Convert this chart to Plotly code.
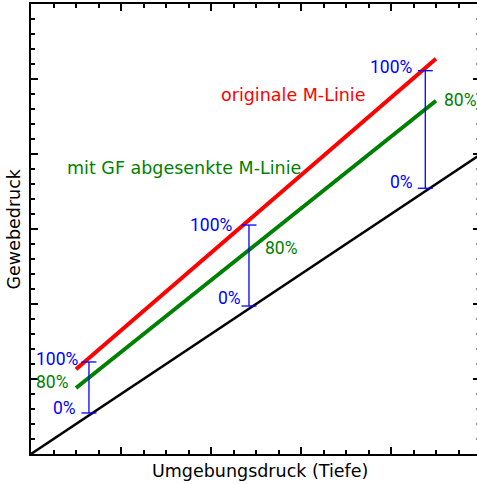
import plotly.graph_objects as go

# ---- data (axis units: x = ambient pressure, y = tissue pressure) ----
ambient_x = [0.0, 5.2]
ambient_y = [0.0, 4.16]

m_orig_x = [0.5, 4.5]
m_orig_y = [1.13, 5.27]

m_gf_x = [0.5, 4.5]
m_gf_y = [0.88, 4.71]

bracket_x = [0.644, 2.422, 4.381]
bracket_top = [1.227, 3.053, 5.111]
bracket_bottom = [0.547, 1.973, 3.543]

pct_labels = ["100%", "80%", "0%"]

# ---- build figure ----
fig = go.Figure()

fig.add_trace(go.Scatter(x=ambient_x, y=ambient_y, mode="lines",
                         line=dict(color="black", width=2.5),
                         showlegend=False, hoverinfo="skip"))
fig.add_trace(go.Scatter(x=m_orig_x, y=m_orig_y, mode="lines",
                         line=dict(color="#ff0000", width=4),
                         showlegend=False, hoverinfo="skip"))
fig.add_trace(go.Scatter(x=m_gf_x, y=m_gf_y, mode="lines",
                         line=dict(color="#008000", width=4),
                         showlegend=False, hoverinfo="skip"))

cap = 0.083
bx, by = [], []
for xc, yt, yb in zip(bracket_x, bracket_top, bracket_bottom):
    bx += [xc - cap, xc + cap, None, xc, xc, None, xc - cap, xc + cap, None]
    by += [yt, yt, None, yt, yb, None, yb, yb, None]
fig.add_trace(go.Scatter(x=bx, y=by, mode="lines",
                         line=dict(color="#0000ff", width=1.3),
                         showlegend=False, hoverinfo="skip"))

# dummy trace for right-hand tick axis
fig.add_trace(go.Scatter(x=[], y=[], yaxis="y2", showlegend=False, hoverinfo="skip"))

pct_font = dict(family="Roboto", size=17.5)
blue = "#0000ff"
green = "#008000"

# label placements (x, y, anchor) for 100%, 80%, 0% at each bracket
pct_pos = [
    [(0.556, 1.267, "right"), (0.441, 0.964, "right"), (0.522, 0.613, "right")],
    [(2.267, 3.053, "right"), (2.574, 2.743, "left"), (2.352, 2.076, "right")],
    [(4.267, 5.164, "right"), (4.563, 4.72, "left"), (4.267, 3.623, "right")],
]
annotations = []
for group in pct_pos:
    for lab, (ax_, ay_, anc) in zip(pct_labels, group):
        annotations.append(dict(
            x=ax_, y=ay_, xref="x", yref="y", text=lab, showarrow=False,
            xanchor=anc, yanchor="middle",
            font=dict(color=green if lab == "80%" else blue, **pct_font)))

txt_font = "DejaVu Sans"
annotations.append(dict(x=2.092, y=4.789, xref="x", yref="y",
                        text="originale M-Linie", showarrow=False,
                        xanchor="left", yanchor="middle",
                        font=dict(family=txt_font, size=17.5, color="#ff0000")))
annotations.append(dict(x=0.378, y=3.82, xref="x", yref="y",
                        text="mit GF abgesenkte M-Linie", showarrow=False,
                        xanchor="left", yanchor="middle",
                        font=dict(family=txt_font, size=17.5, color=green)))
annotations.append(dict(x=0.513, y=-0.038, xref="paper", yref="paper",
                        text="Umgebungsdruck (Tiefe)", showarrow=False,
                        xanchor="center", yanchor="middle",
                        font=dict(family=txt_font, size=17.5, color="black")))
annotations.append(dict(x=-0.037, y=0.5, xref="paper", yref="paper",
                        text="Gewebedruck", showarrow=False, textangle=-90,
                        xanchor="center", yanchor="middle",
                        font=dict(family=txt_font, size=17.5, color="black")))

tick_common = dict(ticks="inside", tickcolor="black", tickwidth=1.5,
                   showticklabels=False, showgrid=False, zeroline=False)

fig.update_layout(
    width=477, height=484,
    margin=dict(l=31, r=0, t=4, b=30),
    paper_bgcolor="white", plot_bgcolor="white",
    xaxis=dict(range=[0, 446 / 90], tickmode="linear", tick0=0, dtick=1,
               ticklen=7, showline=True, linewidth=2, linecolor="black",
               mirror="ticks",
               minor=dict(ticks="inside", dtick=0.25, ticklen=4,
                          tickwidth=1.5, tickcolor="black"),
               **tick_common),
    yaxis=dict(range=[0, 6], tickmode="linear", tick0=0, dtick=1,
               ticklen=7, showline=True, linewidth=2, linecolor="black",
               minor=dict(ticks="inside", dtick=0.2, ticklen=4,
                          tickwidth=1.5, tickcolor="black"),
               **tick_common),
    yaxis2=dict(range=[0, 6], overlaying="y", side="right",
                tickmode="linear", tick0=0, dtick=1, ticklen=4,
                showline=False,
                minor=dict(ticks="inside", dtick=0.2, ticklen=1,
                           tickwidth=1.5, tickcolor="#888888"),
                **tick_common),
    annotations=annotations,
)

fig.write_html("out.html")
